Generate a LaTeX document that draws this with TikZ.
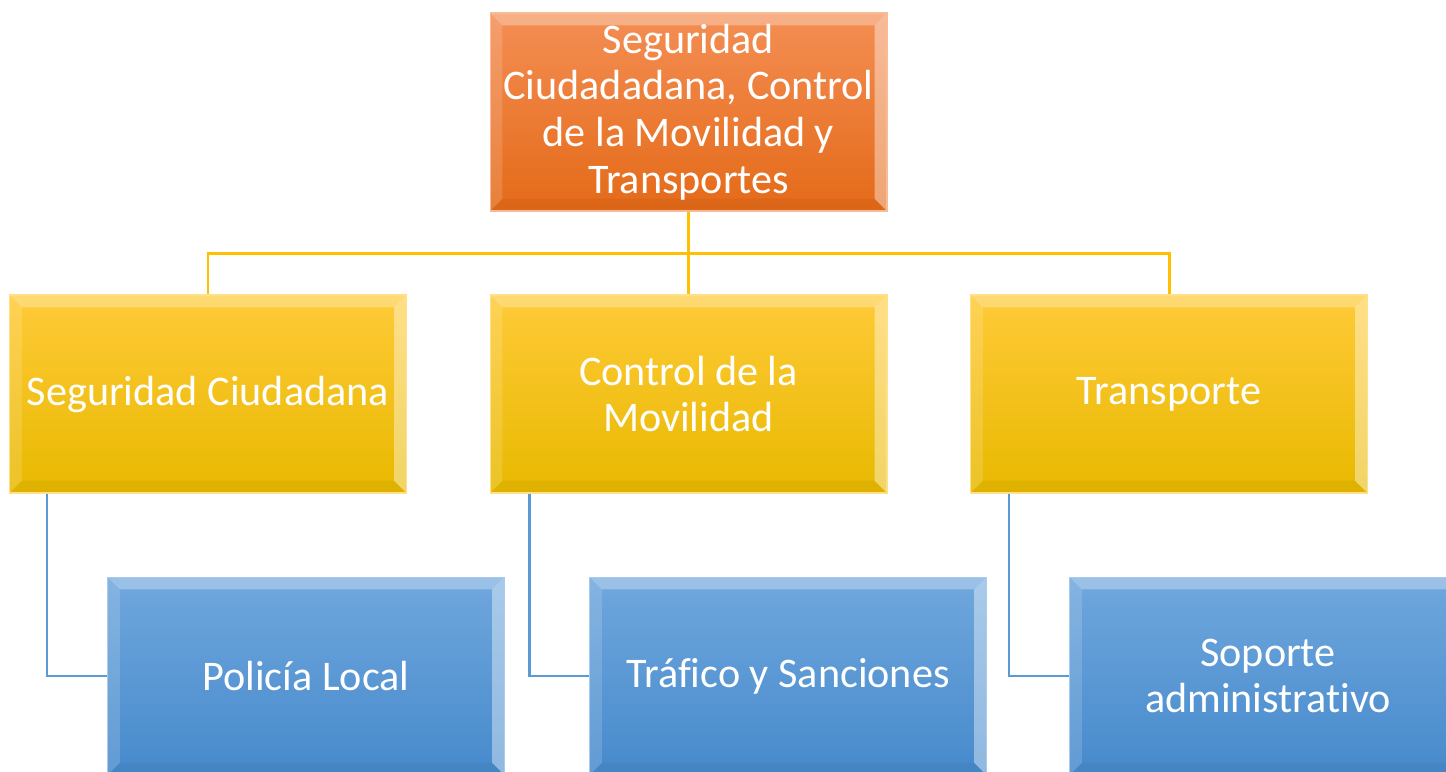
\documentclass[tikz,border=0pt]{standalone}
\usepackage{fontspec}
\setmainfont{Carlito}[Ligatures=NoCommon]
\usetikzlibrary{calc}
\definecolor{naranjaA}{RGB}{244,142,84}
\definecolor{naranjaB}{RGB}{228,106,24}
\definecolor{amarilloA}{RGB}{255,202,56}
\definecolor{amarilloB}{RGB}{255,194,0}
\definecolor{amarilloC}{RGB}{232,185,0}
\definecolor{azulA}{RGB}{112,167,221}
\definecolor{azulB}{RGB}{70,138,204}
\definecolor{lineaAm}{RGB}{255,192,0}
\definecolor{lineaAz}{RGB}{91,155,213}
\tikzset{
	bisel/.style={path picture={
		\coordinate (nw) at (path picture bounding box.north west);
		\coordinate (ne) at (path picture bounding box.north east);
		\coordinate (sw) at (path picture bounding box.south west);
		\coordinate (se) at (path picture bounding box.south east);
		\fill[white,opacity=.3] (nw) -- (ne) -- ([shift={(-7pt,-7pt)}]ne) -- ([shift={(7pt,-7pt)}]nw) -- cycle;
		\fill[white,opacity=.15] (nw) -- (sw) -- ([shift={(7pt,7pt)}]sw) -- ([shift={(7pt,-7pt)}]nw) -- cycle;
		\fill[white,opacity=.4] (ne) -- (se) -- ([shift={(-7pt,7pt)}]se) -- ([shift={(-7pt,-7pt)}]ne) -- cycle;
		\fill[black,opacity=.04] (sw) -- (se) -- ([shift={(-7pt,7pt)}]se) -- ([shift={(7pt,7pt)}]sw) -- cycle;
	}},
	caja/.style={bisel, minimum width=7.94cm, minimum height=3.96cm, inner sep=0pt, align=center,
		text=white, font=\fontsize{24}{26.6}\selectfont, line width=0.6pt},
	jefe/.style={caja, top color=naranjaA, bottom color=naranjaB, draw=naranjaA!60!white},
	area/.style={caja, top color=amarilloA, middle color=amarilloB, bottom color=amarilloC, draw=amarilloA!60!white},
	unidad/.style={caja, top color=azulA, bottom color=azulB, draw=azulA!60!white},
	connAm/.style={draw=lineaAm, line width=1.7pt},
	connAz/.style={draw=lineaAz, line width=1.5pt}
}
\begin{document}
\begin{tikzpicture}[x=0.02cm, y=-0.02cm]
		%%%%% START %%%%%
		
		\clip (0, 0) rectangle (1446, 771);
		\fill[white] (0, 0) rectangle (1446, 771);
		
		\node[jefe] (mando) at (688.5, 112) {Seguridad\\Ciudadadana, Control\\de la Movilidad y\\Transportes};
		
		\node[area] (seguridad) at (208, 394) {Seguridad Ciudadana};
		\node[area] (movilidad) at (688.5, 394) {Control de la\\Movilidad};
		\node[area] (transporte) at (1169, 394) {Transporte};
		
		\node[unidad] (policia) at (306, 676) {Policía Local};
		\node[unidad] (trafico) at (788, 676) {Tráfico y Sanciones};
		\node[unidad] (soporte) at (1268, 676) {Soporte\\administrativo};
		
		\coordinate (cruce) at ($(mando.south)+(0, 42)$);
		\draw[connAm] (mando.south) -- (movilidad.north);
		\draw[connAm] (seguridad.north) |- (cruce) -| (transporte.north);
		
		\draw[connAz] ($(seguridad.south west)+(38, 0)$) |- (policia.west);
		\draw[connAz] ($(movilidad.south west)+(40, 0)$) |- (trafico.west);
		\draw[connAz] ($(transporte.south west)+(39, 0)$) |- (soporte.west);
		
		%%%%% END %%%%%
	\end{tikzpicture}
\end{document}
